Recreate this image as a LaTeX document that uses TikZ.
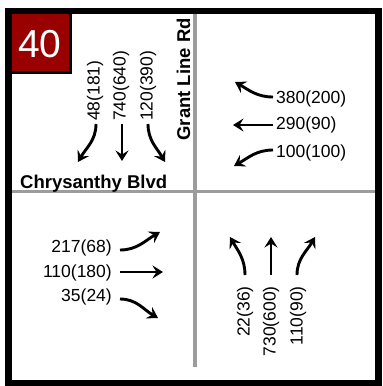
\documentclass[tikz,border=0pt]{standalone}
\usepackage{fontspec}
\setmainfont{Liberation Sans}
\usetikzlibrary{arrows.meta}
\definecolor{roadgray}{HTML}{9C9C9C}
\definecolor{boxred}{HTML}{990000}
\tikzset{
  road/.style={draw=roadgray, line width=3.5pt},
  mv/.style={draw=black, line width=2.9pt, -{Stealth[length=10.5pt,width=13pt,inset=4pt]}},
  vol/.style={inner sep=0pt, font=\fontsize{17.5}{17.5}\selectfont},
  street/.style={inner sep=0pt, font=\fontsize{18.5}{18.5}\selectfont\bfseries},
}
\begin{document}
\begin{tikzpicture}[x=1pt,y=-1pt]
\useasboundingbox (0,0) rectangle (383,386);
% roads
\coordinate (vt) at (195,14);
\coordinate (vb) at (195,367);
\coordinate (hl) at (12,191.5);
\coordinate (hr) at (375,191.5);
\draw[road] (vt) -- (vb);
\draw[road] (hl) -- (hr);
% frame
\draw[line width=6.5pt] (8.5,11) rectangle (378.5,383.5);
% number box
\filldraw[fill=boxred, draw=black, line width=3pt] (10,12.5) rectangle (70.5,72.5);
\node[inner sep=0pt, text=white, font=\fontsize{39}{39}\selectfont] (num) at (40,44) {40};
% street names
\node[street, anchor=base west] (blvd) at (20,188) {Chrysanthy Blvd};
\node[street, rotate=90, anchor=base east] (grant) at (190,18) {Grant Line Rd};
% southbound (top-left)
\node[vol, rotate=90, anchor=west] (s1) at (95,121) {48(181)};
\node[vol, rotate=90, anchor=west] (s2) at (121,121) {740(640)};
\node[vol, rotate=90, anchor=west] (s3) at (148,121) {120(390)};
\coordinate (s1a) at (96,124); \coordinate (s1b) at (78,162);
\coordinate (s2a) at (122,124); \coordinate (s2b) at (122,161);
\coordinate (s3a) at (148,124); \coordinate (s3b) at (165,162);
\draw[mv] (s1a) to[out=-90,in=60] (s1b);
\draw[mv] (s2a) -- (s2b);
\draw[mv] (s3a) to[out=-90,in=120] (s3b);
% westbound (top-right)
\node[vol, anchor=west] (w1) at (276,98.5) {380(200)};
\node[vol, anchor=west] (w2) at (276,125) {290(90)};
\node[vol, anchor=west] (w3) at (276,153) {100(100)};
\coordinate (w1a) at (273,97); \coordinate (w1b) at (235,82);
\coordinate (w2a) at (273,125); \coordinate (w2b) at (233,125);
\coordinate (w3a) at (273,150); \coordinate (w3b) at (234,166);
\draw[mv] (w1a) to[out=180,in=-30] (w1b);
\draw[mv] (w2a) -- (w2b);
\draw[mv] (w3a) to[out=180,in=30] (w3b);
% eastbound (bottom-left)
\node[vol, anchor=east] (e1) at (112,248) {217(68)};
\node[vol, anchor=east] (e2) at (112,273) {110(180)};
\node[vol, anchor=east] (e3) at (112,297) {35(24)};
\coordinate (e1a) at (120,250); \coordinate (e1b) at (160,232);
\coordinate (e2a) at (120,272); \coordinate (e2b) at (163,272);
\coordinate (e3a) at (120,299); \coordinate (e3b) at (158,318);
\draw[mv] (e1a) to[out=0,in=210] (e1b);
\draw[mv] (e2a) -- (e2b);
\draw[mv] (e3a) to[out=0,in=150] (e3b);
% northbound (bottom-right)
\node[vol, rotate=90, anchor=east] (n1) at (245,286) {22(36)};
\node[vol, rotate=90, anchor=east] (n2) at (271,286) {730(600)};
\node[vol, rotate=90, anchor=east] (n3) at (298,286) {110(90)};
\coordinate (n1a) at (245,275); \coordinate (n1b) at (230,237);
\coordinate (n2a) at (271,275); \coordinate (n2b) at (271,237);
\coordinate (n3a) at (297,275); \coordinate (n3b) at (315,237);
\draw[mv] (n1a) to[out=90,in=-60] (n1b);
\draw[mv] (n2a) -- (n2b);
\draw[mv] (n3a) to[out=90,in=240] (n3b);
\end{tikzpicture}
\end{document}
